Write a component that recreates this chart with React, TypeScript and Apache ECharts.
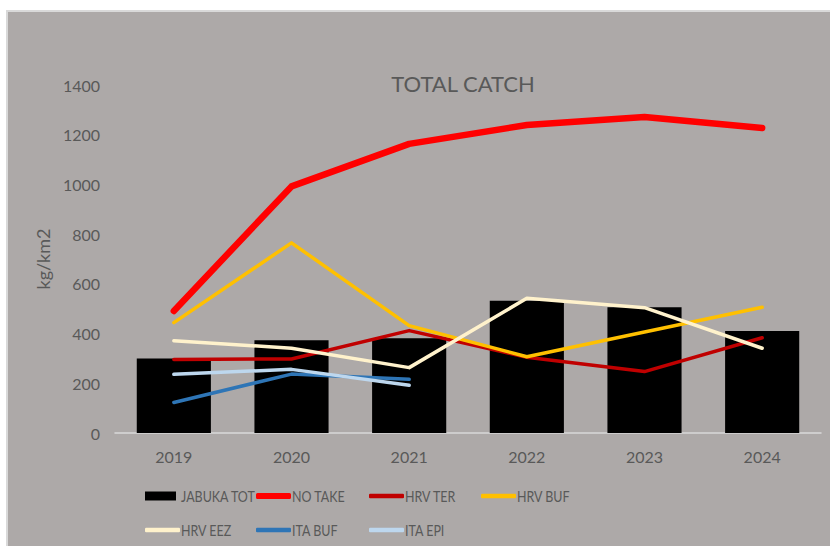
import React, { useEffect, useRef } from "react";
import * as echarts from "echarts";

// Catch per year, kg/km2
const years = ["2019", "2020", "2021", "2022", "2023", "2024"];
const jabukaTot = [300, 373, 381, 532, 506, 410];
const noTake = [491, 992, 1163, 1239, 1271, 1227];
const hrvTer = [296, 298, 412, 305, 247, 383];
const hrvBuf = [444, 765, 432, 307, 406, 506];
const hrvEez = [371, 341, 263, 542, 504, 341];
const itaBuf = [123, 237, 216, null, null, null];
const itaEpi = [236, 256, 192, null, null, null];

const yTicks = { min: 0, max: 1400, interval: 200 };

const FONT = "Lato, 'Noto Sans', sans-serif";
const TEXT = "#595959";
const BG = "#ADA9A8";

const lineSeries = [
  { name: "NO TAKE", data: noTake, color: "#FF0000", width: 6.5 },
  { name: "HRV TER", data: hrvTer, color: "#C00000", width: 3.5 },
  { name: "HRV BUF", data: hrvBuf, color: "#FFC000", width: 3.5 },
  { name: "HRV EEZ", data: hrvEez, color: "#FFF2CC", width: 3.5 },
  { name: "ITA BUF", data: itaBuf, color: "#2E75B6", width: 3.5 },
  { name: "ITA EPI", data: itaEpi, color: "#BDD7EE", width: 3.5 },
];

// legend layout: two rows of fixed-width columns
const legendCols = [145, 256, 369, 481];
const legendRows = [496, 530];
const legendNames = [
  "JABUKA TOT",
  "NO TAKE",
  "HRV TER",
  "HRV BUF",
  "HRV EEZ",
  "ITA BUF",
  "ITA EPI",
];

export default function App() {
  const ref = useRef<HTMLDivElement>(null);

  useEffect(() => {
    if (!ref.current) return;
    const chart = echarts.init(ref.current, undefined, { renderer: "svg" });

    const slots = legendNames.map((name, i) => ({
      name,
      left: legendCols[i % 4],
      cy: legendRows[Math.floor(i / 4)],
    }));

    // one legend per slot so the swatches sit in a fixed grid
    const legends = slots.map(({ name, left, cy }) => {
      const isBar = name === "JABUKA TOT";
      const thick = name === "NO TAKE";
      const h = isBar ? 9 : thick ? 6 : 4.5;
      return {
        left,
        top: cy - h / 2,
        padding: 0,
        selectedMode: false,
        itemWidth: isBar ? 31 : 35,
        itemHeight: h,
        data: [{ name, icon: isBar ? "rect" : "roundRect" }],
        formatter: () => "",
        textStyle: { fontSize: 1 },
      };
    });

    // legend captions, narrowed to the width of the original condensed face
    const captions = slots.map(({ name, left, cy }) => ({
      type: "text",
      x: left + 36,
      y: cy,
      scaleX: 0.78,
      silent: true,
      style: {
        text: name,
        fontFamily: FONT,
        fontSize: 16,
        fill: TEXT,
        verticalAlign: "middle",
        align: "left",
      },
    }));

    chart.setOption({
      animation: false,
      backgroundColor: "#FFFFFF",
      graphic: [
        {
          type: "rect",
          z: -10,
          silent: true,
          shape: { x: 7, y: 11, width: 840, height: 560 },
          style: { fill: BG, stroke: "#D9D9D9", lineWidth: 2 },
        },
        ...captions,
      ],
      title: {
        text: "TOTAL CATCH",
        left: 458,
        top: 67,
        textAlign: "center",
        textStyle: {
          fontFamily: FONT,
          fontSize: 22,
          fontWeight: "normal",
          color: TEXT,
        },
      },
      legend: legends,
      grid: { left: 115, right: 9, top: 85, bottom: 113, containLabel: false },
      xAxis: {
        type: "category",
        data: years,
        axisLine: { show: true, lineStyle: { color: "#D9D9D9", width: 1.5 } },
        axisTick: { show: false },
        axisLabel: {
          fontFamily: FONT,
          fontSize: 16,
          color: TEXT,
          margin: 15,
        },
      },
      yAxis: {
        type: "value",
        min: yTicks.min,
        max: yTicks.max,
        interval: yTicks.interval,
        name: "kg/km2",
        nameLocation: "middle",
        nameGap: 62,
        nameTextStyle: { fontFamily: FONT, fontSize: 18, color: TEXT },
        axisLine: { show: false },
        axisTick: { show: false },
        splitLine: { show: false },
        axisLabel: {
          fontFamily: FONT,
          fontSize: 16,
          color: TEXT,
          margin: 15,
          formatter: (v: number) => String(v),
        },
      },
      series: [
        {
          name: "JABUKA TOT",
          type: "bar",
          data: jabukaTot,
          barWidth: "63%",
          itemStyle: { color: "#000000" },
        },
        ...lineSeries.map((s) => ({
          name: s.name,
          type: "line",
          data: s.data,
          showSymbol: false,
          symbol: "none",
          connectNulls: false,
          color: s.color,
          lineStyle: { color: s.color, width: s.width, cap: "round", join: "round" },
        })),
      ],
    });

    return () => chart.dispose();
  }, []);

  return (
    <div
      ref={ref}
      style={{ position: "fixed", left: 0, top: 0, width: 830, height: 546 }}
    />
  );
}
